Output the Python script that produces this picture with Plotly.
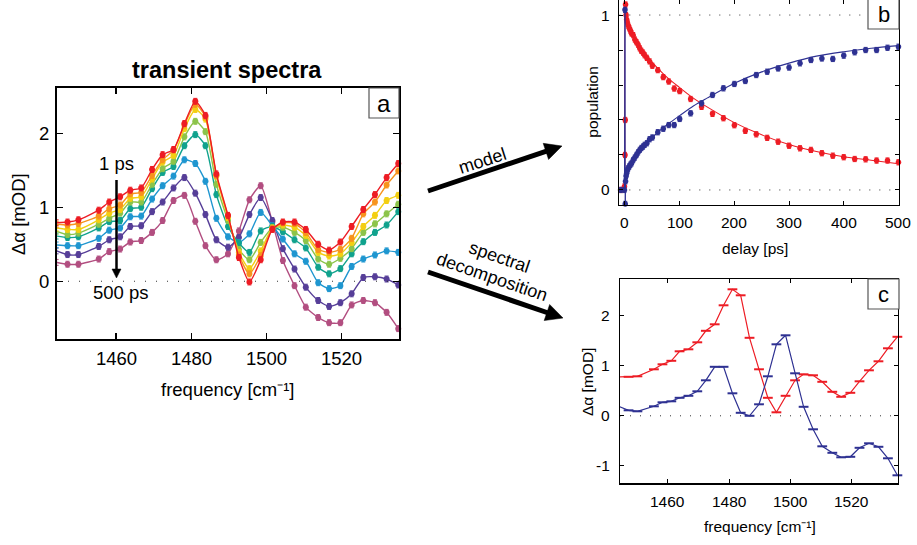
import math
import plotly.graph_objects as go

# ---------------- data ----------------
freq = [1444.2, 1447.1, 1450.0, 1455.4, 1458.2, 1461.1, 1463.8, 1466.7, 1469.6, 1472.4,
        1475.3, 1478.2, 1481.1, 1483.8, 1486.7, 1489.8, 1492.7, 1495.5, 1498.5, 1501.6,
        1504.4, 1507.5, 1510.5, 1513.8, 1516.7, 1519.7, 1522.7, 1525.8, 1528.9, 1532.0, 1535.1]

spec_red = [0.79, 0.80, 0.83, 0.96, 1.07, 1.14, 1.23, 1.26, 1.51, 1.71, 1.78, 2.13, 2.43, 2.24, 1.45, 0.89,
            0.32, -0.01, 0.29, 0.70, 0.80, 0.80, 0.70, 0.50, 0.42, 0.53, 0.74, 0.97, 1.17, 1.40, 1.59]
spec_orange = [0.77, 0.76, 0.78, 0.88, 0.98, 1.03, 1.18, 1.20, 1.43, 1.64, 1.77, 2.11, 2.39, 2.22, 1.43, 0.88,
               0.355, 0.10, 0.345, 0.71, 0.79, 0.78, 0.66, 0.43, 0.39, 0.43, 0.58, 0.91, 1.07, 1.30, 1.49]
spec_yellow = [0.72, 0.70, 0.70, 0.83, 0.92, 0.97, 1.12, 1.14, 1.38, 1.61, 1.70, 2.06, 2.32, 2.19, 1.42, 0.86,
               0.39, 0.17, 0.41, 0.72, 0.76, 0.73, 0.62, 0.39, 0.34, 0.37, 0.525, 0.74, 0.89, 1.09, 1.16]
spec_green = [0.675, 0.63, 0.65, 0.77, 0.85, 0.92, 1.07, 1.07, 1.31, 1.52, 1.62, 1.95, 2.16, 2.02, 1.31, 0.82,
              0.43, 0.29, 0.525, 0.72, 0.73, 0.66, 0.55, 0.30, 0.23, 0.31, 0.44, 0.66, 0.775, 0.91, 1.04]
spec_teal = [0.61, 0.59, 0.60, 0.72, 0.805, 0.82, 0.98, 1.00, 1.25, 1.47, 1.55, 1.83, 1.98, 1.83, 1.17, 0.74,
             0.516, 0.39, 0.68, 0.74, 0.67, 0.56, 0.45, 0.19, 0.10, 0.17, 0.37, 0.534, 0.66, 0.76, 0.94]
spec_blue = [0.49, 0.48, 0.48, 0.58, 0.69, 0.72, 0.87, 0.88, 1.11, 1.29, 1.42, 1.64, 1.59, 1.35, 0.85, 0.60,
             0.525, 0.64, 0.93, 0.75, 0.57, 0.37, 0.27, -0.02, -0.10, -0.06, 0.20, 0.30, 0.355, 0.41, 0.39]
spec_purple = [0.41, 0.36, 0.36, 0.47, 0.56, 0.60, 0.74, 0.75, 0.94, 1.07, 1.26, 1.40, 1.19, 0.90, 0.56, 0.46,
               0.59, 0.90, 1.13, 0.82, 0.44, 0.165, -0.08, -0.26, -0.34, -0.29, -0.17, 0.05, 0.06, 0.03, -0.05]
spec_mauve = [0.255, 0.23, 0.23, 0.30, 0.40, 0.435, 0.53, 0.55, 0.66, 0.82, 1.09, 1.16, 0.81, 0.48, 0.29, 0.37,
              0.68, 1.10, 1.29, 0.80, 0.28, -0.06, -0.35, -0.49, -0.56, -0.56, -0.32, -0.26, -0.29, -0.42, -0.64]

spec_colors = ["#B24E80", "#563E98", "#1E96D0", "#10A28D", "#8CC44A", "#F3CF12", "#F7941D", "#ED1C24"]

delay = [-8, -1, 0, 0.5, 1, 2, 3, 4, 6, 8, 10, 12, 15, 18, 21, 24, 27, 30, 33, 36, 40, 45, 50, 60, 70,
         80, 90, 100, 120, 140, 160, 180, 200, 220, 240, 260, 280, 300, 320, 340, 360, 380, 400, 420,
         440, 460, 480, 500]
pop_red = [0.0, 0.02, 0.2, 0.4, 1.06, 1.0, 0.975, 0.96, 0.94, 0.925, 0.91, 0.895, 0.885, 0.86, 0.845,
           0.83, 0.81, 0.795, 0.785, 0.77, 0.755, 0.735, 0.71, 0.685, 0.645, 0.62, 0.58, 0.565, 0.52,
           0.475, 0.435, 0.41, 0.37, 0.338, 0.318, 0.298, 0.276, 0.253, 0.238, 0.229, 0.21, 0.196,
           0.187, 0.177, 0.175, 0.168, 0.168, 0.158]
pop_blue = [0.0, 0.0, 1.03, -0.08, 0.05, 0.08, 0.095, 0.11, 0.124, 0.135, 0.145, 0.152, 0.171, 0.185,
            0.20, 0.215, 0.229, 0.24, 0.248, 0.258, 0.267, 0.29, 0.30, 0.33, 0.35, 0.371, 0.371, 0.406,
            0.438, 0.495, 0.543, 0.581, 0.606, 0.623, 0.657, 0.676, 0.695, 0.70, 0.724, 0.743, 0.752,
            0.749, 0.768, 0.787, 0.80, 0.80, 0.813, 0.819]
fit_t = [0, 1, 3, 6, 10, 15, 20, 30, 40, 50, 60, 80, 100, 125, 150, 200, 250, 300, 350, 400, 450, 500]
fit_red = [0.0, 1.0, 0.97, 0.945, 0.915, 0.885, 0.86, 0.805, 0.765, 0.73, 0.695, 0.635, 0.585, 0.525,
           0.475, 0.385, 0.315, 0.26, 0.22, 0.19, 0.17, 0.15]
fit_blue = [0.0, 0.03, 0.06, 0.1, 0.135, 0.165, 0.19, 0.235, 0.27, 0.30, 0.33, 0.38, 0.425, 0.48,
            0.525, 0.61, 0.675, 0.725, 0.765, 0.79, 0.81, 0.825]

comp_red = [0.78, 0.78, 0.79, 0.93, 1.03, 1.10, 1.29, 1.33, 1.47, 1.70, 1.83, 2.21, 2.53, 2.41, 1.56, 0.93,
            0.36, 0.07, 0.40, 0.71, 0.83, 0.81, 0.68, 0.48, 0.38, 0.46, 0.69, 0.91, 1.09, 1.35, 1.58]
comp_blue = [0.18, 0.11, 0.09, 0.19, 0.27, 0.29, 0.36, 0.40, 0.49, 0.71, 0.98, 0.98, 0.45, 0.06, 0.00, 0.23,
             0.79, 1.43, 1.61, 0.85, 0.18, -0.27, -0.61, -0.74, -0.83, -0.82, -0.64, -0.55, -0.62, -0.85, -1.19]

freq_ticks = [1460, 1480, 1500, 1520]
delay_ticks = [0, 100, 200, 300, 400, 500]
a_y_ticks = [0, 1, 2]
b_y_ticks = [0, 1]
c_y_ticks = [-1, 0, 1, 2]
range_freq = [1444.3, 1535.3]
range_a_y = [-0.78, 2.61]
range_b_x = [-10.4, 501]
range_b_y = [-0.086, 1.086]
range_c_y = [-1.35, 2.73]

RED = "#ED1C24"
NAVY = "#2E3192"
FONT = "Liberation Sans, Arial, sans-serif"

W, H = 917, 545
def fx(p):
    return p / W
def fy(p):
    return 1 - p / H

fig = go.Figure()

# ---------- panel a ----------
series = [spec_mauve, spec_purple, spec_blue, spec_teal, spec_green, spec_yellow, spec_orange, spec_red]
for vals, col in zip(series, spec_colors):
    fig.add_trace(go.Scatter(
        x=freq, y=vals, xaxis="x", yaxis="y", mode="lines+markers",
        line=dict(color=col, width=1.4, shape="spline", smoothing=0.6),
        marker=dict(color=col, size=6),
        error_y=dict(type="constant", value=0.04, color=col, thickness=1, width=2),
        cliponaxis=False, showlegend=False, hoverinfo="skip"))
fig.add_trace(go.Scatter(x=range_freq, y=[0, 0], xaxis="x", yaxis="y", mode="lines",
                         line=dict(color="#333", width=1.2, dash="1px,10px"), showlegend=False,
                         hoverinfo="skip"))

# ---------- panel b ----------
fig.add_trace(go.Scatter(x=range_b_x, y=[0, 0], xaxis="x2", yaxis="y2", mode="lines",
                         line=dict(color="#333", width=1, dash="1px,9px"), showlegend=False,
                         hoverinfo="skip"))
fig.add_trace(go.Scatter(x=range_b_x, y=[1, 1], xaxis="x2", yaxis="y2", mode="lines",
                         line=dict(color="#333", width=1, dash="1px,9px"), showlegend=False,
                         hoverinfo="skip"))
for vals, fit, col in [(pop_red, fit_red, RED), (pop_blue, fit_blue, NAVY)]:
    fig.add_trace(go.Scatter(x=fit_t, y=fit, xaxis="x2", yaxis="y2", mode="lines",
                             line=dict(color=col, width=1.1, shape="spline", smoothing=0.8),
                             showlegend=False, hoverinfo="skip"))
    fig.add_trace(go.Scatter(x=delay, y=vals, xaxis="x2", yaxis="y2", mode="markers",
                             marker=dict(color=col, size=5.5),
                             error_y=dict(type="constant", value=0.015, color=col, thickness=1, width=2),
                             cliponaxis=False, showlegend=False, hoverinfo="skip"))
fig.add_trace(go.Scatter(x=delay[:5], y=pop_blue[:5], xaxis="x2", yaxis="y2", mode="lines",
                         line=dict(color=NAVY, width=1), showlegend=False, hoverinfo="skip"))

# ---------- panel c ----------
fig.add_trace(go.Scatter(x=range_freq, y=[0, 0], xaxis="x3", yaxis="y3", mode="lines",
                         line=dict(color="#333", width=1, dash="1px,9px"), showlegend=False,
                         hoverinfo="skip"))
for vals, col in [(comp_red, RED), (comp_blue, NAVY)]:
    fig.add_trace(go.Scatter(
        x=freq, y=vals, xaxis="x3", yaxis="y3", mode="lines+markers",
        line=dict(color=col, width=1.2),
        marker=dict(symbol="line-ew", size=7, line=dict(color=col, width=2)),
        cliponaxis=False, showlegend=False, hoverinfo="skip"))

axis_common = dict(showline=True, linecolor="black", mirror="ticks", ticks="inside",
                   tickcolor="black", showgrid=False, zeroline=False, showticklabels=False)

fig.update_layout(
    width=W, height=H, autosize=False,
    margin=dict(l=0, r=0, t=0, b=0),
    paper_bgcolor="white", plot_bgcolor="white",
    font=dict(family=FONT, color="black"),
    hovermode=False,
    xaxis=dict(domain=[fx(57), fx(399)], range=range_freq, anchor="y", tickvals=freq_ticks,
               ticklen=6, linewidth=1.8, tickwidth=1.2, **axis_common),
    yaxis=dict(domain=[fy(339), fy(88)], range=range_a_y, anchor="x", tickvals=a_y_ticks,
               ticklen=6, linewidth=1.8, tickwidth=1.2, **axis_common),
    xaxis2=dict(domain=[fx(619.3), fx(899)], range=range_b_x, anchor="y2",
                tickvals=delay_ticks, ticklen=4, linewidth=1.3, tickwidth=1, **axis_common),
    yaxis2=dict(domain=[fy(205), 1.0], range=range_b_y, anchor="x2",
                tickvals=b_y_ticks, ticklen=4, linewidth=1.3, tickwidth=1,
                minor=dict(dtick=0.2, ticks="inside", ticklen=4, tickcolor="black", tickwidth=1,
                           showgrid=False), **axis_common),
    xaxis3=dict(domain=[fx(620), fx(898)], range=range_freq, anchor="y3", tickvals=freq_ticks,
                ticklen=4, linewidth=1.3, tickwidth=1, **axis_common),
    yaxis3=dict(domain=[fy(483.3), fy(279.3)], range=range_c_y, anchor="x3",
                tickvals=c_y_ticks, ticklen=4, linewidth=1.3, tickwidth=1, **axis_common),
)

# ---------- tick labels (placed as text on the axes' own scales) ----------
def xlabels(axis, ticks, ypix, size):
    for t in ticks:
        fig.add_annotation(x=t, xref=axis, y=fy(ypix), yref="paper", text=str(t), showarrow=False,
                           xanchor="center", yanchor="middle", font=dict(size=size, family=FONT))

def ylabels(axis, ticks, xpix, size):
    for t in ticks:
        fig.add_annotation(x=fx(xpix), xref="paper", y=t, yref=axis, text=str(t), showarrow=False,
                           xanchor="right", yanchor="middle", font=dict(size=size, family=FONT))

xlabels("x", freq_ticks, 358, 18.5)
ylabels("y", a_y_ticks, 51, 18.5)
xlabels("x2", delay_ticks, 222, 15.5)
ylabels("y2", b_y_ticks, 612, 15.5)
xlabels("x3", freq_ticks, 501.5, 15.5)
ylabels("y3", c_y_ticks, 612, 15.5)

# ---------- text / decorations ----------
def txt(x, y, s, size, angle=0, bold=False):
    fig.add_annotation(x=fx(x), y=fy(y), xref="paper", yref="paper", text=(f"<b>{s}</b>" if bold else s),
                       showarrow=False, textangle=angle, xanchor="center", yanchor="middle",
                       font=dict(size=size, family=FONT, color="black"))

txt(227, 70, "transient spectra", 23.5, bold=True)
txt(18, 214, "Δα [mOD]", 18.5, angle=-90)
txt(228, 389, "frequency [cm⁻¹]", 18.5)
txt(116.7, 163, "1 ps", 18.5)
txt(121, 292, "500 ps", 18.5)
txt(591.7, 102, "population", 15.5, angle=-90)
txt(755, 248, "delay [ps]", 15.5)
txt(587, 382, "Δα [mOD]", 15.5, angle=-90)
txt(760, 526, "frequency [cm⁻¹]", 15.5)
txt(482, 161, "model", 18, angle=-18)
txt(499, 257, "spectral", 18, angle=19)
txt(492, 277, "decomposition", 18, angle=19)

# panel letter boxes
for (x0, y0, x1, y1, letter, size) in [(369, 88, 399, 118, "a", 24), (868, -1, 899, 29, "b", 22),
                                       (868, 279, 899, 309, "c", 22)]:
    fig.add_shape(type="rect", xref="paper", yref="paper", x0=fx(x0), x1=fx(x1), y0=fy(y1), y1=fy(y0),
                  line=dict(color="#555", width=1.2), fillcolor="white", layer="above")
    txt((x0 + x1) / 2, (y0 + y1) / 2 + 0.5, letter, size)

# arrows drawn as shapes (shaft + filled head)
def arrow(xt, yt, xh, yh, width, head_len, head_half):
    dx, dy = xh - xt, yh - yt
    L = math.hypot(dx, dy)
    ux, uy = dx / L, dy / L
    nx, ny = -uy, ux
    bx, by = xh - ux * head_len, yh - uy * head_len
    fig.add_shape(type="line", xref="paper", yref="paper",
                  x0=fx(xt), y0=fy(yt), x1=fx(bx + ux * 1.5), y1=fy(by + uy * 1.5),
                  line=dict(color="black", width=width), layer="above")
    pts = [(xh, yh), (bx + nx * head_half, by + ny * head_half), (bx - nx * head_half, by - ny * head_half)]
    path = "M " + " L ".join(f"{fx(px):.5f},{fy(py):.5f}" for px, py in pts) + " Z"
    fig.add_shape(type="path", xref="paper", yref="paper", path=path,
                  fillcolor="black", line=dict(color="black", width=0.5), layer="above")

arrow(428, 191, 562, 146, 5, 17, 8.5)
arrow(428, 272, 563, 318, 5, 17, 8.5)
arrow(116.5, 180, 116.5, 278, 2.5, 9, 4.5)

fig.write_html("out.html", config={"displayModeBar": False, "staticPlot": True},
               post_script="document.body.style.margin='0px';document.body.style.overflow='hidden';")
